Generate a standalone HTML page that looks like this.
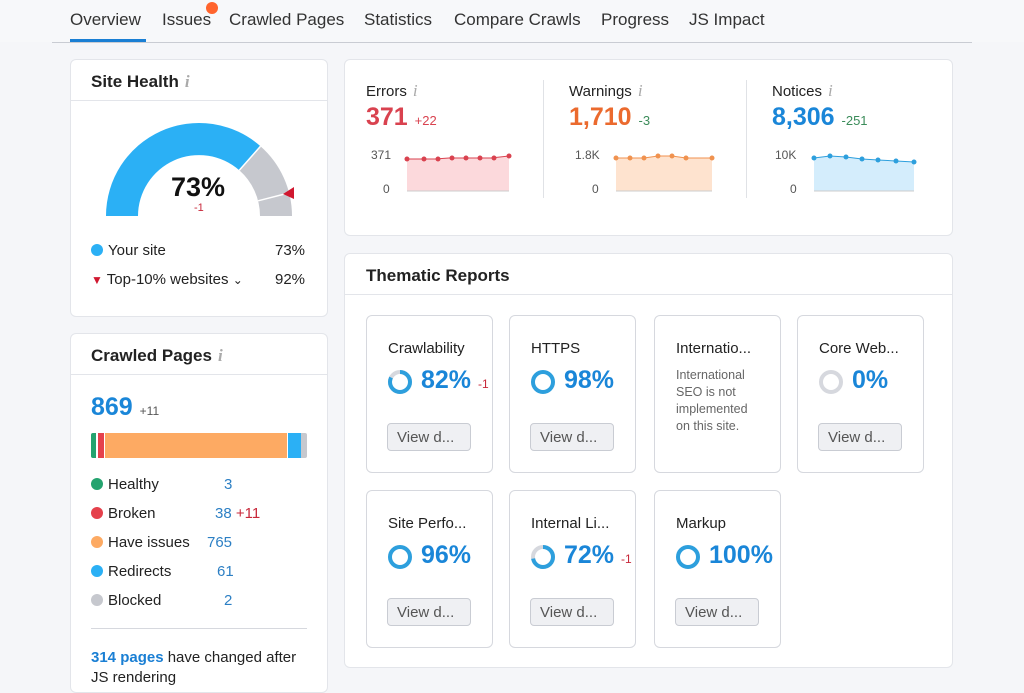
<!DOCTYPE html>
<html><head><meta charset="utf-8"><style>
*{margin:0;padding:0;box-sizing:border-box}
body{width:1024px;height:683px;overflow:hidden;background:#f5f6f9;font-family:"Liberation Sans",sans-serif;color:#222;position:relative}
.a{position:absolute;white-space:nowrap}
.card{position:absolute;background:#fff;border:1px solid #e3e5ea;border-radius:6px}
.tab{position:absolute;top:10px;font-size:17px;color:#333}
.info{color:#aaa;font-style:italic;font-family:"Liberation Serif",serif;font-size:17px;margin-left:6px}
.tc{position:absolute;width:127px;height:158px;border:1px solid #d6d8de;border-radius:6px;background:#fff}
.tc .t{position:absolute;left:21px;top:24px;font-size:15px;color:#222;white-space:nowrap}
.tc .p{position:absolute;left:54px;top:50px;font-size:25px;color:#1a86d8;font-weight:bold;white-space:nowrap}
.tc svg{position:absolute;left:20px;top:53px}
.tc .b{position:absolute;left:20px;top:107px;width:84px;height:28px;border:1px solid #c9ccd3;border-radius:4px;background:#eff0f3;font-size:15px;color:#555;padding:5px 0 0 9px;white-space:nowrap}
.dot{display:inline-block;width:12px;height:12px;border-radius:50%;vertical-align:-1px;margin-right:5px}
.lg{position:absolute;left:91px;font-size:15px;color:#222;white-space:nowrap;width:216px}
.lg span.n{position:absolute;color:#2c7fc4;white-space:nowrap}
</style></head><body>
<div class="a" style="left:0;top:0;width:1024px;height:42px;background:#f7f8fa"></div>
<div class="tab" style="left:70px">Overview</div>
<div class="tab" style="left:162px">Issues</div>
<div class="a" style="left:206px;top:2px;width:12px;height:12px;border-radius:50%;background:#ff642d"></div>
<div class="tab" style="left:229px">Crawled Pages</div>
<div class="tab" style="left:364px">Statistics</div>
<div class="tab" style="left:454px">Compare Crawls</div>
<div class="tab" style="left:601px">Progress</div>
<div class="tab" style="left:689px">JS Impact</div>
<div class="a" style="left:52px;top:42px;width:920px;height:1px;background:#c9ccd3"></div>
<div class="a" style="left:70px;top:39px;width:76px;height:3px;background:#1a7fd4"></div>

<!-- Site Health -->
<div class="card" style="left:70px;top:59px;width:258px;height:258px">
<div class="a" style="left:20px;top:12px;font-size:17px;font-weight:bold">Site Health<span class="info">i</span></div>
<div class="a" style="left:0;top:40px;width:256px;height:1px;background:#e3e5ea"></div>
</div>
<svg class="a" style="left:0;top:0" width="340" height="320">
<path d="M106,216 A93,93 0 0 1 260.5,146.2 L239.3,170.3 A61,61 0 0 0 138,216 Z" fill="#2bb0f5"/>
<path d="M260.5,146.2 A93,93 0 0 1 292,216 L260,216 A61,61 0 0 0 239.3,170.3 Z" fill="#c6c8ce"/>
<line x1="260.5" y1="146.2" x2="239.3" y2="170.3" stroke="#fff" stroke-width="1.5"/>
<line x1="289.1" y1="192.9" x2="258.1" y2="200.8" stroke="#fff" stroke-width="1.5"/>
<path d="M283,194 L294,187 L294,199 Z" fill="#d0172f"/>
</svg>
<div class="a" style="left:171px;top:172px;font-size:27px;font-weight:bold;color:#111">73%</div>
<div class="a" style="left:194px;top:202px;font-size:11px;color:#c8283a">-1</div>
<div class="a" style="left:91px;top:242px;font-size:15px"><span class="dot" style="background:#2bb0f5"></span>Your site</div>
<div class="a" style="left:275px;top:242px;font-size:15px">73%</div>
<div class="a" style="left:91px;top:271px;font-size:15px"><span style="color:#d0172f;font-size:12px">▼</span> Top-10% websites <span style="font-size:12px">⌄</span></div>
<div class="a" style="left:275px;top:271px;font-size:15px">92%</div>

<!-- Crawled pages -->
<div class="card" style="left:70px;top:333px;width:258px;height:360px">
<div class="a" style="left:20px;top:12px;font-size:17px;font-weight:bold">Crawled Pages<span class="info">i</span></div>
<div class="a" style="left:0;top:40px;width:256px;height:1px;background:#e3e5ea"></div>
</div>
<div class="a" style="left:91px;top:393px;font-size:25px;font-weight:bold;color:#1a86d8">869 <span style="font-size:12px;color:#555;font-weight:normal">+11</span></div>
<div class="a" style="left:91px;top:433px;width:216px;height:25px;display:flex;border-radius:2px;overflow:hidden">
<div style="width:5px;background:#24a36f"></div><div style="width:2px;background:#fff"></div><div style="width:6px;background:#e5414c"></div><div style="width:1px;background:#fff"></div><div style="width:182px;background:#fdaa63"></div><div style="width:1px;background:#fff"></div><div style="width:13px;background:#2bb0f5"></div><div style="width:6px;background:#c6c8ce"></div></div>
<div class="lg" style="top:476px"><span class="dot" style="background:#24a36f"></span>Healthy<span class="n" style="left:133px">3</span></div>
<div class="lg" style="top:505px"><span class="dot" style="background:#e5414c"></span>Broken<span class="n" style="left:124px">38 <span style="color:#c8283a">+11</span></span></div>
<div class="lg" style="top:534px"><span class="dot" style="background:#fdaa63"></span>Have issues<span class="n" style="left:116px">765</span></div>
<div class="lg" style="top:563px"><span class="dot" style="background:#2bb0f5"></span>Redirects<span class="n" style="left:126px">61</span></div>
<div class="lg" style="top:592px"><span class="dot" style="background:#c6c8ce"></span>Blocked<span class="n" style="left:133px">2</span></div>
<div class="a" style="left:91px;top:628px;width:216px;height:1px;background:#d6d8de"></div>
<div class="a" style="left:91px;top:648px;font-size:15px;line-height:20px"><b style="color:#1a7fd4">314 pages</b> have changed after<br>JS rendering</div>

<!-- Errors etc -->
<div class="card" style="left:344px;top:59px;width:609px;height:177px"></div>
<div class="a" style="left:543px;top:80px;width:1px;height:118px;background:#e0e2e6"></div>
<div class="a" style="left:746px;top:80px;width:1px;height:118px;background:#e0e2e6"></div>
<div class="a" style="left:366px;top:81px;font-size:15px">Errors<span class="info">i</span></div>
<div class="a" style="left:366px;top:103px;font-size:25px;font-weight:bold;color:#d9424f">371 <span style="font-size:13px;font-weight:normal">+22</span></div>
<div class="a" style="left:569px;top:81px;font-size:15px">Warnings<span class="info">i</span></div>
<div class="a" style="left:569px;top:103px;font-size:25px;font-weight:bold;color:#eb6a2e">1,710 <span style="font-size:13px;font-weight:normal;color:#3b8c5a">-3</span></div>
<div class="a" style="left:772px;top:81px;font-size:15px">Notices<span class="info">i</span></div>
<div class="a" style="left:772px;top:103px;font-size:25px;font-weight:bold;color:#1a86d8">8,306 <span style="font-size:13px;font-weight:normal;color:#3b8c5a">-251</span></div>
<svg class="a" style="left:0;top:0" width="1024" height="240" font-family="Liberation Sans" font-size="12" fill="#555">
<text x="371" y="159">371</text><text x="383" y="193">0</text>
<path d="M407,159 L421,159 L435,159 L449,158 L463,158 L477,158 L491,158 L509,156 L509,191 L407,191Z" fill="#fcd9dc"/>
<polyline points="407,159 421,159 435,159 449,158 463,158 477,158 491,158 509,156" fill="none" stroke="#d9424f" stroke-width="1"/>
<g fill="#d9424f"><circle cx="407" cy="159" r="2.5"/><circle cx="424" cy="159" r="2.5"/><circle cx="438" cy="159" r="2.5"/><circle cx="452" cy="158" r="2.5"/><circle cx="466" cy="158" r="2.5"/><circle cx="480" cy="158" r="2.5"/><circle cx="494" cy="158" r="2.5"/><circle cx="509" cy="156" r="2.5"/></g>
<line x1="407" y1="191" x2="509" y2="191" stroke="#ccc"/>
<text x="575" y="159">1.8K</text><text x="592" y="193">0</text>
<path d="M616,158 L630,158 L644,158 L658,156 L672,156 L686,158 L712,158 L712,191 L616,191Z" fill="#fee3cf"/>
<polyline points="616,158 630,158 644,158 658,156 672,156 686,158 712,158" fill="none" stroke="#f0924f"/>
<g fill="#f0924f"><circle cx="616" cy="158" r="2.5"/><circle cx="630" cy="158" r="2.5"/><circle cx="644" cy="158" r="2.5"/><circle cx="658" cy="156" r="2.5"/><circle cx="672" cy="156" r="2.5"/><circle cx="686" cy="158" r="2.5"/><circle cx="712" cy="158" r="2.5"/></g>
<line x1="616" y1="191" x2="712" y2="191" stroke="#ccc"/>
<text x="775" y="159">10K</text><text x="790" y="193">0</text>
<path d="M814,158 L830,156 L846,157 L862,159 L878,160 L896,161 L914,162 L914,191 L814,191Z" fill="#d4edfc"/>
<polyline points="814,158 830,156 846,157 862,159 878,160 896,161 914,162" fill="none" stroke="#2d9fdd"/>
<g fill="#2d9fdd"><circle cx="814" cy="158" r="2.5"/><circle cx="830" cy="156" r="2.5"/><circle cx="846" cy="157" r="2.5"/><circle cx="862" cy="159" r="2.5"/><circle cx="878" cy="160" r="2.5"/><circle cx="896" cy="161" r="2.5"/><circle cx="914" cy="162" r="2.5"/></g>
<line x1="814" y1="191" x2="914" y2="191" stroke="#ccc"/>
</svg>

<!-- Thematic -->
<div class="card" style="left:344px;top:253px;width:609px;height:415px">
<div class="a" style="left:21px;top:12px;font-size:17px;font-weight:bold">Thematic Reports</div>
<div class="a" style="left:0;top:40px;width:607px;height:1px;background:#e3e5ea"></div>
</div>

<div class="tc" style="left:366px;top:315px"><div class="t">Crawlability</div>
<svg width="26" height="26"><circle cx="13" cy="13" r="10" fill="none" stroke="#d6d8de" stroke-width="4"/><circle cx="13" cy="13" r="10" fill="none" stroke="#2d9fdd" stroke-width="4" stroke-dasharray="51.5 62.8" transform="rotate(-90 13 13)"/></svg>
<div class="p">82% <span style="font-size:12px;color:#c8283a;font-weight:normal">-1</span></div>
<div class="b">View d...</div></div>

<div class="tc" style="left:509px;top:315px"><div class="t">HTTPS</div>
<svg width="26" height="26"><circle cx="13" cy="13" r="10" fill="none" stroke="#2d9fdd" stroke-width="4"/></svg>
<div class="p">98%</div><div class="b">View d...</div></div>

<div class="tc" style="left:654px;top:315px"><div class="t">Internatio...</div>
<div class="a" style="left:21px;top:51px;font-size:12.5px;color:#666;line-height:17px">International<br>SEO is not<br>implemented<br>on this site.</div></div>

<div class="tc" style="left:797px;top:315px"><div class="t">Core Web...</div>
<svg width="26" height="26"><circle cx="13" cy="13" r="10" fill="none" stroke="#d6d8de" stroke-width="4"/></svg>
<div class="p">0%</div><div class="b">View d...</div></div>

<div class="tc" style="left:366px;top:490px"><div class="t">Site Perfo...</div>
<svg width="26" height="26"><circle cx="13" cy="13" r="10" fill="none" stroke="#2d9fdd" stroke-width="4"/></svg>
<div class="p">96%</div><div class="b">View d...</div></div>

<div class="tc" style="left:509px;top:490px"><div class="t">Internal Li...</div>
<svg width="26" height="26"><circle cx="13" cy="13" r="10" fill="none" stroke="#d6d8de" stroke-width="4"/><circle cx="13" cy="13" r="10" fill="none" stroke="#2d9fdd" stroke-width="4" stroke-dasharray="45.2 62.8" transform="rotate(-90 13 13)"/></svg>
<div class="p">72% <span style="font-size:12px;color:#c8283a;font-weight:normal">-1</span></div>
<div class="b">View d...</div></div>

<div class="tc" style="left:654px;top:490px"><div class="t">Markup</div>
<svg width="26" height="26"><circle cx="13" cy="13" r="10" fill="none" stroke="#2d9fdd" stroke-width="4"/></svg>
<div class="p">100%</div><div class="b">View d...</div></div>
</body></html>
